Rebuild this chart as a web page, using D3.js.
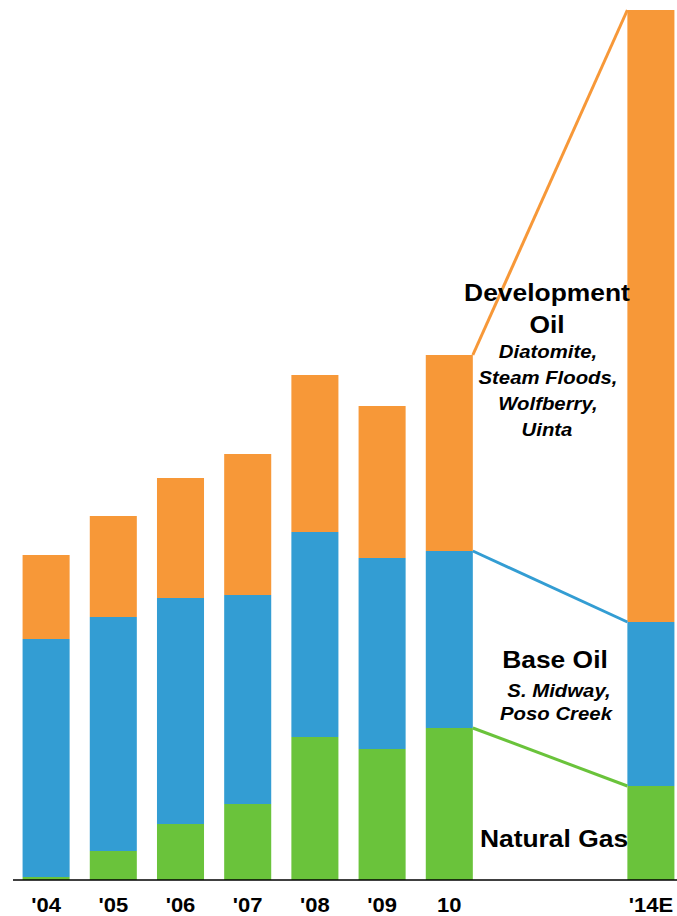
<!DOCTYPE html>
<html>
<head>
<meta charset="utf-8">
<script src="https://cdn.jsdelivr.net/npm/d3@7"></script>
<style>
  body { margin: 0; background: #fff; }
  text { font-family: "Liberation Sans", Arial, sans-serif; font-weight: bold; fill: #000; }
</style>
</head>
<body>
<svg class="plot" width="677" height="916"></svg>
<script>
// categories (two empty slots before the 2014 estimate)
var years = ["'04", "'05", "'06", "'07", "'08", "'09", "10", "gap1", "gap2", "'14E"]
var tickYears = ["'04", "'05", "'06", "'07", "'08", "'09", "10", "'14E"]

// series values (relative production)
var naturalGas = [3, 29, 56, 76, 143, 131, 152, 94]
var baseOil = [238, 234, 226, 209, 205, 191, 177, 164]
var developmentOil = [84, 101, 120, 141, 157, 152, 196, 612]

var colors = {gas: "#6ac33b", base: "#339dd3", dev: "#f79838"}

var width = 677, height = 916

var data = tickYears.map(function(y, i) {
    return {year: y, gas: naturalGas[i], base: baseOil[i], dev: developmentOil[i]}
})

var x = d3.scaleBand()
    .domain(years)
    .range([12.5, 684.5])
    .paddingInner(0.3)
    .paddingOuter(0.15)

var y = d3.scaleLinear()
    .domain([0, 870])
    .range([880, 10])

var stack = d3.stack().keys(["gas", "base", "dev"])
var series = stack(data)

var svg = d3.select(".plot")

// bars
svg.selectAll("g.layer")
    .data(series)
    .enter()
    .append("g")
    .attr("class", "layer")
    .attr("fill", function(d) { return colors[d.key] })
    .selectAll("rect")
    .data(function(d) { return d })
    .enter()
    .append("rect")
    .attr("x", function(d) { return x(d.data.year) })
    .attr("width", x.bandwidth())
    .attr("y", function(d) { return y(d[1]) })
    .attr("height", function(d) { return y(d[0]) - y(d[1]) })

// connector lines from 2010 to 2014E
var last = data.length - 1, prev = 6
series.forEach(function(s) {
    svg.append("line")
        .attr("x1", x(data[prev].year) + x.bandwidth())
        .attr("y1", y(s[prev][1]))
        .attr("x2", x(data[last].year))
        .attr("y2", y(s[last][1]))
        .attr("stroke", colors[s.key])
        .attr("stroke-width", 3)
})

// x axis
var axis = svg.append("g")
    .attr("transform", "translate(0," + y(0) + ")")
    .call(d3.axisBottom(x).tickValues(tickYears).tickSize(0).tickPadding(0))
axis.select(".domain").remove()
axis.selectAll("text")
    .attr("y", 32)
    .attr("dy", 0)
    .style("font-size", "20px")
    .style("font-family", "'Liberation Sans', Arial, sans-serif")
    .style("font-weight", "bold")
    .attr("fill", "#000")

svg.append("line")
    .attr("x1", 13).attr("x2", width)
    .attr("y1", y(0)).attr("y2", y(0))
    .attr("stroke", "#000")
    .attr("stroke-width", 1.5)

// annotations
var notes = [
    {t: "Development", x: 547, y: 301, size: 24, italic: false},
    {t: "Oil", x: 547, y: 333, size: 24, italic: false},
    {t: "Diatomite,", x: 548, y: 358, size: 18, italic: true},
    {t: "Steam Floods,", x: 548, y: 384, size: 18, italic: true},
    {t: "Wolfberry,", x: 548, y: 410, size: 18, italic: true},
    {t: "Uinta", x: 547, y: 436, size: 18, italic: true},
    {t: "Base Oil", x: 555, y: 668, size: 24, italic: false},
    {t: "S. Midway,", x: 559, y: 697, size: 18, italic: true},
    {t: "Poso Creek", x: 556, y: 720, size: 18, italic: true},
    {t: "Natural Gas", x: 554, y: 847, size: 24, italic: false}
]

svg.selectAll("text.note")
    .data(notes)
    .enter()
    .append("text")
    .attr("class", "note")
    .attr("x", function(d) { return d.x })
    .attr("y", function(d) { return d.y })
    .attr("text-anchor", "middle")
    .style("font-size", function(d) { return d.size + "px" })
    .style("font-style", function(d) { return d.italic ? "italic" : "normal" })
    .text(function(d) { return d.t })

// the original lettering is a bit wider than Arial
svg.selectAll("text").each(function() {
    var len = this.getComputedTextLength()
    var italic = d3.select(this).style("font-style") === "italic"
    d3.select(this)
        .attr("textLength", len * (italic ? 1.13 : 1.1))
        .attr("lengthAdjust", "spacingAndGlyphs")
})
</script>
</body>
</html>
